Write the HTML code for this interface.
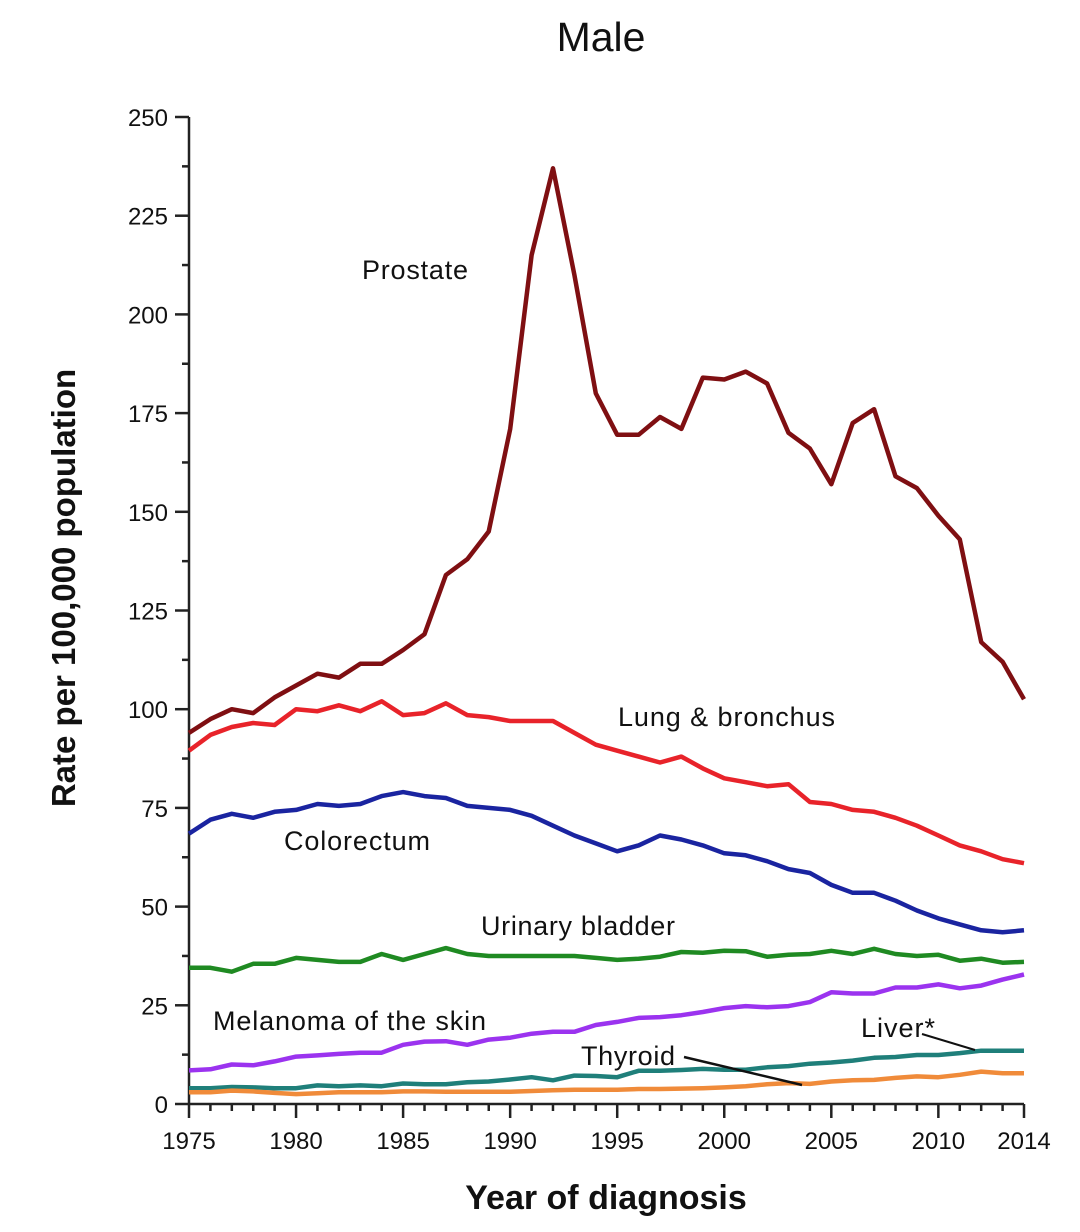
<!DOCTYPE html>
<html><head><meta charset="utf-8"><style>
html,body{margin:0;padding:0;background:#fff;}
svg text{font-family:"Liberation Sans",Arial,sans-serif;fill:#111;}
</style></head><body>
<svg id="c" width="1080" height="1227" viewBox="0 0 1080 1227" xmlns="http://www.w3.org/2000/svg">
<rect width="1080" height="1227" fill="#fff"/>
<text x="601" y="51" font-size="41" text-anchor="middle">Male</text>
<text transform="translate(75,588) rotate(-90)" font-size="33" font-weight="bold" text-anchor="middle">Rate per 100,000 population</text>
<text x="606" y="1209" font-size="34" font-weight="bold" text-anchor="middle">Year of diagnosis</text>
<g id="axes" stroke="#222" stroke-width="2.5" fill="none"></g>
<g id="ticklabels" font-size="24"></g>
<g id="series" fill="none" stroke-width="4.5" stroke-linejoin="round"></g>
<text x="362" y="279" font-size="27" textLength="106">Prostate</text>
<text x="618" y="726" font-size="27" textLength="217">Lung &amp; bronchus</text>
<text x="284" y="850" font-size="27" textLength="146">Colorectum</text>
<text x="481" y="935" font-size="27" textLength="194">Urinary bladder</text>
<text x="213" y="1030" font-size="27" textLength="273">Melanoma of the skin</text>
<text x="861" y="1037" font-size="27" textLength="74">Liver*</text>
<text x="581" y="1065" font-size="27" textLength="94">Thyroid</text>
<line x1="922" y1="1034" x2="975" y2="1050" stroke="#111" stroke-width="2"/>
<line x1="684" y1="1057" x2="802" y2="1085" stroke="#111" stroke-width="2.5"/>
</svg>
<script>
var X0=189,XW=(1024-189)/39,Y0=1104,YS=(1104-117)/250;
function px(i){return X0+i*XW;} function py(v){return Y0-v*YS;}
var ns="http://www.w3.org/2000/svg";
function el(p,t,a,txt){var e=document.createElementNS(ns,t);for(var k in a)e.setAttribute(k,a[k]);if(txt!==undefined)e.textContent=txt;document.getElementById(p).appendChild(e);return e;}
el("axes","line",{x1:X0,y1:117,x2:X0,y2:Y0});
el("axes","line",{x1:X0,y1:Y0,x2:1024,y2:Y0});
for(var v=0;v<=250;v+=12.5){var big=v%25==0;el("axes","line",{x1:X0-(big?14:7),y1:py(v),x2:X0,y2:py(v)});
if(big)el("ticklabels","text",{x:X0-21,y:py(v)+9,"text-anchor":"end"},String(v));}
for(var i=0;i<=39;i++){var big=(i%5==0)||i==39;el("axes","line",{x1:px(i),y1:Y0,x2:px(i),y2:Y0+(big?14:7)});
if(big)el("ticklabels","text",{x:px(i),y:Y0+45,"text-anchor":"middle"},String(1975+i));}
var S=[
["#1f7f7a",[4,4,4.3,4.2,4,4,4.7,4.5,4.7,4.5,5.2,5,5,5.5,5.7,6.2,6.8,6,7.2,7.1,6.8,8.4,8.4,8.6,8.9,8.7,8.7,9.3,9.6,10.2,10.5,11,11.7,11.9,12.4,12.4,12.9,13.5,13.5,13.5]],
["#f08b3a",[3,3,3.4,3.2,2.8,2.5,2.7,3,3,3,3.2,3.2,3.1,3.1,3.1,3.1,3.3,3.5,3.6,3.6,3.6,3.8,3.8,3.9,4,4.2,4.5,5,5.3,5.1,5.7,6,6.1,6.6,7,6.8,7.4,8.2,7.8,7.8]],
["#9b33ef",[8.5,8.8,10,9.8,10.8,12,12.3,12.7,13,13,15,15.8,15.9,15,16.3,16.8,17.8,18.3,18.3,20,20.8,21.8,22,22.5,23.3,24.3,24.8,24.5,24.8,25.8,28.3,28,28,29.5,29.5,30.3,29.3,30,31.5,32.8]],
["#1f8a22",[34.5,34.5,33.5,35.5,35.5,37,36.5,36,36,38,36.5,38,39.5,38,37.5,37.5,37.5,37.5,37.5,37,36.5,36.8,37.3,38.5,38.3,38.8,38.7,37.3,37.8,38,38.8,38,39.3,38,37.5,37.8,36.3,36.8,35.8,36]],
["#1a24a0",[68.5,72,73.5,72.5,74,74.5,76,75.5,76,78,79,78,77.5,75.5,75,74.5,73,70.5,68,66,64,65.5,68,67,65.5,63.5,63,61.5,59.5,58.5,55.5,53.5,53.5,51.5,49,47,45.5,44,43.5,44]],
["#e8232a",[89.5,93.5,95.5,96.5,96,100,99.5,101,99.5,102,98.5,99,101.5,98.5,98,97,97,97,94,91,89.5,88,86.5,88,85,82.5,81.5,80.5,81,76.5,76,74.5,74,72.5,70.5,68,65.5,64,62,61]],
["#7f0f12",[94,97.5,100,99,103,106,109,108,111.5,111.5,115,119,134,138,145,171,215,237,210,180,169.5,169.5,174,171,184,183.5,185.5,182.5,170,166,157,172.5,176,159,156,149,143,117,112,102.5]]];
S.forEach(function(s){var p=s[1].map(function(v,i){return px(i).toFixed(1)+","+py(v).toFixed(1);}).join(" ");el("series","polyline",{points:p,stroke:s[0]});});
</script>
</body></html>
